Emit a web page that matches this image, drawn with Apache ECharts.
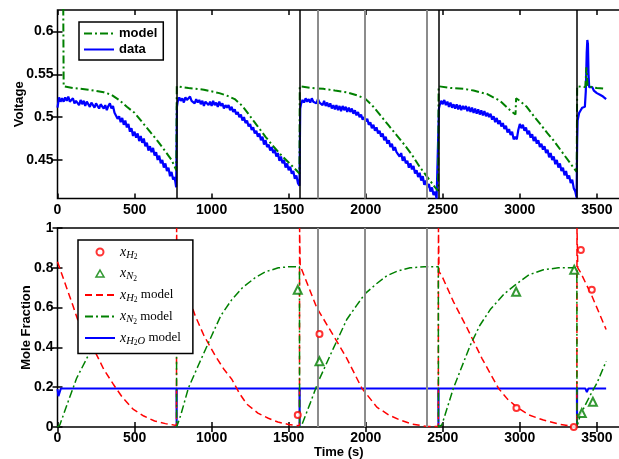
<!DOCTYPE html>
<html>
<head>
<meta charset="utf-8">
<script src="https://cdn.jsdelivr.net/npm/echarts@6/dist/echarts.min.js"></script>
<style>
html, body { margin: 0; padding: 0; background: #fff; }
#chart { width: 619px; height: 459px; }
</style>
</head>
<body>
<div id="chart"></div>
<script>
// purge / switch times (s)
const resetTimes = [773, 1571, 2472, 3371]
// gas sample times (s)
const sampleTimes = [1687, 1996, 2396]

const xTicks = [0, 500, 1000, 1500, 2000, 2500, 3000, 3500]
const voltTicks = [0.45, 0.5, 0.55, 0.6]

// top panel: model voltage [t, V]
const voltageModel = [
  [0, 0.64], [37, 0.64], [40, 0.536], [100, 0.534], [200, 0.532], [300, 0.529], [350, 0.526], [400, 0.520],
  [450, 0.512], [500, 0.505], [550, 0.494], [600, 0.483], [650, 0.472], [700, 0.460], [740, 0.450], [771, 0.438],
  [773, 0.438], [774, 0.536],
  [850, 0.534], [950, 0.532], [1050, 0.528], [1100, 0.525], [1150, 0.521], [1200, 0.513], [1250, 0.501], [1300, 0.489],
  [1350, 0.477], [1400, 0.466], [1450, 0.456], [1500, 0.447], [1550, 0.438], [1570, 0.434], [1572, 0.536],
  [1650, 0.534], [1725, 0.533], [1800, 0.531], [1877, 0.529], [1950, 0.525], [2000, 0.521], [2050, 0.512], [2100, 0.501],
  [2150, 0.490], [2200, 0.479], [2250, 0.468], [2300, 0.456], [2350, 0.442], [2400, 0.430], [2450, 0.418], [2470, 0.414],
  [2473, 0.536],
  [2550, 0.534], [2634, 0.533], [2700, 0.531], [2786, 0.527], [2872, 0.519], [2937, 0.508], [2972, 0.503], [2976, 0.522],
  [3000, 0.519], [3045, 0.512], [3100, 0.499], [3132, 0.492], [3180, 0.481], [3218, 0.473], [3283, 0.457], [3348, 0.441],
  [3369, 0.436], [3372, 0.536],
  [3425, 0.535], [3432, 0.558], [3440, 0.536], [3500, 0.534], [3560, 0.533],
]

// top panel: measured voltage [t, V]
const voltageData = [
  [0, 0.511], [10, 0.523], [20, 0.518], [30, 0.522], [40, 0.518], [50, 0.523], [60, 0.519], [70, 0.524], [80, 0.518], [90, 0.520],
  [100, 0.522], [110, 0.516], [120, 0.519], [130, 0.521], [140, 0.514], [150, 0.520], [160, 0.515], [170, 0.519], [180, 0.513], [190, 0.518],
  [200, 0.520], [210, 0.512], [220, 0.517], [230, 0.519], [240, 0.511], [250, 0.516], [260, 0.518], [270, 0.510], [280, 0.515], [290, 0.517],
  [300, 0.510], [310, 0.514], [320, 0.508], [330, 0.513], [340, 0.516], [350, 0.510], [360, 0.513], [370, 0.505], [380, 0.507], [390, 0.498],
  [400, 0.501], [410, 0.494], [420, 0.499], [430, 0.491], [440, 0.496], [450, 0.488], [460, 0.492], [470, 0.483], [480, 0.487], [490, 0.478],
  [500, 0.483], [510, 0.476], [520, 0.481], [530, 0.472], [540, 0.478], [550, 0.470], [560, 0.475], [570, 0.466], [580, 0.470], [590, 0.461],
  [600, 0.466], [610, 0.459], [620, 0.464], [630, 0.455], [640, 0.459], [650, 0.450], [660, 0.455], [670, 0.446], [680, 0.450], [690, 0.441],
  [700, 0.446], [710, 0.437], [720, 0.441], [730, 0.431], [740, 0.436], [750, 0.427], [760, 0.430], [770, 0.418],
  [775, 0.512], [780, 0.518], [790, 0.523], [800, 0.519], [810, 0.522], [820, 0.517], [830, 0.523], [840, 0.520], [850, 0.518], [860, 0.524],
  [870, 0.519], [880, 0.521], [890, 0.516], [900, 0.521], [910, 0.517], [920, 0.520], [930, 0.515], [940, 0.519], [950, 0.513], [960, 0.518],
  [970, 0.520], [980, 0.514], [990, 0.518], [1000, 0.513], [1010, 0.519], [1020, 0.514], [1030, 0.517], [1040, 0.512], [1050, 0.518], [1060, 0.513],
  [1070, 0.516], [1080, 0.510], [1090, 0.514], [1100, 0.511], [1110, 0.514], [1120, 0.508], [1130, 0.512], [1140, 0.506], [1150, 0.509], [1160, 0.503],
  [1170, 0.506], [1180, 0.500], [1190, 0.503], [1200, 0.496], [1210, 0.500], [1220, 0.493], [1230, 0.496], [1240, 0.489], [1250, 0.492], [1260, 0.485],
  [1270, 0.488], [1280, 0.481], [1290, 0.484], [1300, 0.477], [1310, 0.481], [1320, 0.473], [1330, 0.477], [1340, 0.468], [1350, 0.473], [1360, 0.465],
  [1370, 0.468], [1380, 0.461], [1390, 0.465], [1400, 0.458], [1410, 0.462], [1420, 0.454], [1430, 0.458], [1440, 0.449], [1450, 0.454], [1460, 0.446],
  [1470, 0.450], [1480, 0.441], [1490, 0.446], [1500, 0.438], [1510, 0.442], [1520, 0.434], [1530, 0.437], [1540, 0.428], [1550, 0.432], [1560, 0.423],
  [1570, 0.420],
  [1575, 0.510], [1580, 0.515], [1590, 0.520], [1600, 0.517], [1610, 0.522], [1620, 0.518], [1630, 0.521], [1640, 0.517], [1650, 0.522], [1660, 0.518],
  [1670, 0.520], [1680, 0.516], [1690, 0.521], [1700, 0.517], [1710, 0.519], [1720, 0.514], [1730, 0.519], [1740, 0.513], [1750, 0.517], [1760, 0.512],
  [1770, 0.516], [1780, 0.510], [1790, 0.514], [1800, 0.509], [1810, 0.514], [1820, 0.508], [1830, 0.513], [1840, 0.507], [1850, 0.513], [1860, 0.508],
  [1870, 0.512], [1880, 0.506], [1890, 0.511], [1900, 0.506], [1910, 0.510], [1920, 0.504], [1930, 0.508], [1940, 0.502], [1950, 0.506], [1960, 0.500],
  [1970, 0.503], [1980, 0.497], [1990, 0.500], [2000, 0.495], [2010, 0.498], [2020, 0.491], [2030, 0.494], [2040, 0.487], [2050, 0.491], [2060, 0.484],
  [2070, 0.488], [2080, 0.481], [2090, 0.484], [2100, 0.477], [2110, 0.481], [2120, 0.473], [2130, 0.477], [2140, 0.469], [2150, 0.473], [2160, 0.465],
  [2170, 0.469], [2180, 0.461], [2190, 0.465], [2200, 0.459], [2210, 0.461], [2220, 0.454], [2230, 0.458], [2240, 0.449], [2250, 0.454], [2260, 0.446],
  [2270, 0.449], [2280, 0.441], [2290, 0.446], [2300, 0.439], [2310, 0.443], [2320, 0.434], [2330, 0.438], [2340, 0.430], [2350, 0.435], [2360, 0.426],
  [2370, 0.431], [2380, 0.421], [2390, 0.426], [2400, 0.418], [2410, 0.422], [2420, 0.413], [2430, 0.418], [2440, 0.409], [2450, 0.413], [2460, 0.405],
  [2470, 0.407],
  [2475, 0.510], [2480, 0.514], [2490, 0.519], [2500, 0.515], [2510, 0.520], [2520, 0.514], [2530, 0.518], [2540, 0.512], [2550, 0.517], [2560, 0.511],
  [2570, 0.515], [2580, 0.510], [2590, 0.515], [2600, 0.509], [2610, 0.514], [2620, 0.508], [2630, 0.513], [2640, 0.509], [2650, 0.513], [2660, 0.507],
  [2670, 0.512], [2680, 0.506], [2690, 0.511], [2700, 0.505], [2710, 0.510], [2720, 0.504], [2730, 0.509], [2740, 0.503], [2750, 0.508], [2760, 0.502],
  [2770, 0.507], [2780, 0.501], [2790, 0.505], [2800, 0.500], [2810, 0.504], [2820, 0.497], [2830, 0.501], [2840, 0.494], [2850, 0.499], [2860, 0.492],
  [2870, 0.496], [2880, 0.489], [2890, 0.493], [2900, 0.486], [2910, 0.490], [2920, 0.482], [2930, 0.486], [2940, 0.479], [2950, 0.483], [2960, 0.474],
  [2970, 0.477], [2980, 0.474], [2990, 0.485], [3000, 0.492], [3010, 0.487], [3020, 0.491], [3030, 0.484], [3040, 0.488], [3050, 0.480], [3060, 0.484],
  [3070, 0.476], [3080, 0.480], [3090, 0.472], [3100, 0.477], [3110, 0.469], [3120, 0.473], [3130, 0.465], [3140, 0.469], [3150, 0.462], [3160, 0.466],
  [3170, 0.458], [3180, 0.462], [3190, 0.453], [3200, 0.458], [3210, 0.450], [3220, 0.454], [3230, 0.445], [3240, 0.450], [3250, 0.441], [3260, 0.446],
  [3270, 0.437], [3280, 0.441], [3290, 0.432], [3300, 0.437], [3310, 0.428], [3320, 0.432], [3330, 0.423], [3340, 0.427], [3350, 0.417], [3360, 0.413],
  [3368, 0.406],
  [3372, 0.470], [3375, 0.496], [3385, 0.505], [3395, 0.508], [3405, 0.511], [3415, 0.509], [3422, 0.512], [3428, 0.530], [3434, 0.575], [3438, 0.590],
  [3442, 0.585], [3446, 0.550], [3450, 0.535], [3460, 0.533], [3470, 0.535], [3480, 0.531], [3490, 0.532], [3500, 0.528], [3510, 0.530], [3520, 0.526],
  [3530, 0.528], [3540, 0.524], [3550, 0.526], [3560, 0.521],
]

// bottom panel: model mole fractions [t, x]
const h2Model = [
  [0, 0.83], [50, 0.72], [100, 0.61], [135, 0.53], [200, 0.44], [243, 0.38], [300, 0.29], [362, 0.215], [420, 0.15], [490, 0.09],
  [560, 0.055], [630, 0.03], [700, 0.017], [772, 0.008], [773, 1.0], [775, 0.83],
  [830, 0.70], [893, 0.56], [950, 0.46], [1022, 0.36], [1080, 0.29], [1131, 0.24], [1180, 0.17], [1228, 0.115], [1300, 0.07], [1368, 0.044],
  [1430, 0.025], [1498, 0.013], [1570, 0.006], [1571, 1.0], [1575, 0.81],
  [1585, 0.80], [1682, 0.60], [1790, 0.46], [1877, 0.345], [1975, 0.195], [2072, 0.10], [2150, 0.06], [2223, 0.035], [2300, 0.015], [2396, 0.003],
  [2471, 0.002], [2472, 1.0], [2476, 0.78],
  [2494, 0.76], [2569, 0.63], [2656, 0.50], [2754, 0.345], [2861, 0.195], [2920, 0.14], [2981, 0.10], [3060, 0.06], [3153, 0.035], [3250, 0.015],
  [3327, 0.005], [3370, 0.002], [3371, 1.0], [3376, 0.80],
  [3392, 0.78], [3467, 0.66], [3560, 0.49],
]
const n2Model = [
  [0, 0], [15, 0.01], [70, 0.13], [124, 0.245], [200, 0.36], [300, 0.52], [400, 0.64], [500, 0.72], [600, 0.77], [700, 0.795], [772, 0.80], [773, 0],
  [800, 0.06], [849, 0.195], [914, 0.31], [1001, 0.46], [1060, 0.56], [1131, 0.64], [1200, 0.70], [1282, 0.75], [1350, 0.78], [1433, 0.80],
  [1500, 0.805], [1570, 0.805], [1571, 0],
  [1585, 0.01], [1640, 0.12], [1693, 0.23], [1790, 0.395], [1877, 0.54], [1940, 0.61], [1996, 0.67], [2070, 0.72], [2137, 0.76], [2210, 0.785],
  [2288, 0.80], [2380, 0.805], [2471, 0.805], [2472, 0],
  [2494, 0.01], [2569, 0.195], [2678, 0.41], [2740, 0.51], [2808, 0.59], [2900, 0.67], [2981, 0.72], [3060, 0.765], [3153, 0.79], [3250, 0.80],
  [3370, 0.80], [3371, 0],
  [3392, 0.06], [3457, 0.16], [3500, 0.22], [3560, 0.33],
]
const h2oModel = [
  [0, 0.19], [6, 0.155], [12, 0.15], [22, 0.194], [772, 0.194], [773, 0], [774, 0.194], [1570, 0.194], [1571, 0], [1572, 0.194],
  [2471, 0.194], [2472, 0], [2473, 0.194], [3370, 0.194], [3371, 0], [3372, 0.194], [3425, 0.194], [3435, 0.175], [3445, 0.194], [3560, 0.194],
]
// bottom panel: gas samples
const h2Samples = [[1559, 0.06], [1700, 0.467], [2978, 0.095], [3350, 0.0], [3396, 0.89], [3467, 0.69]]
const n2Samples = [[1559, 0.69], [1700, 0.33], [2976, 0.68], [3353, 0.79], [3402, 0.07], [3474, 0.127]]

const X_MAX = 3650
const FONT = 'Liberation Sans, Arial, sans-serif'
const SERIF = 'Liberation Serif, Times New Roman, serif'
const dashDot = [8, 3, 2, 3]

const tickLabel = { fontFamily: FONT, fontWeight: 'bold', fontSize: 14, color: '#000' }
const inTick = { show: true, inside: true, length: 5, lineStyle: { color: '#000', width: 1.5 } }
const nameStyle = { fontFamily: FONT, fontWeight: 'bold', fontSize: 13, color: '#000' }

function xAxisPair(gridIndex, margin, withName) {
  const base = { type: 'value', gridIndex, min: 0, max: X_MAX, splitLine: { show: false }, axisLine: { show: false } }
  const bottom = Object.assign({}, base, {
    position: 'bottom',
    axisTick: Object.assign({}, inTick, { customValues: xTicks }),
    axisLabel: Object.assign({}, tickLabel, { margin, customValues: xTicks, formatter: v => String(v) }),
  })
  if (withName) {
    Object.assign(bottom, { name: 'Time (s)', nameLocation: 'middle', nameGap: 19, nameMoveOverlap: false, nameTextStyle: nameStyle })
  }
  const top = Object.assign({}, base, {
    position: 'top',
    axisTick: Object.assign({}, inTick, { customValues: xTicks }),
    axisLabel: { show: false },
  })
  return [bottom, top]
}

function vline(values, color, width) {
  return {
    silent: true,
    symbol: ['none', 'none'],
    label: { show: false },
    emphasis: { disabled: true },
    animation: false,
    lineStyle: { color, width, type: 'solid', opacity: 1 },
    data: values.map(t => ({ xAxis: t })),
  }
}

// legend entry for a line series: line only, no marker
const lineOnly = name => ({ name, itemStyle: { opacity: 0 } })

const chart = echarts.init(document.getElementById('chart'), null, { renderer: 'canvas' })

const gridBase = { left: 57.5, right: -1, show: true, borderColor: '#000', borderWidth: 1.5, backgroundColor: '#fff', containLabel: false, outerBoundsMode: 'none' }

chart.setOption({
  animation: false,
  backgroundColor: '#fff',
  grid: [
    Object.assign({}, gridBase, { top: 10, height: 188.5 }),
    Object.assign({}, gridBase, { top: 228, height: 199 }),
  ],
  xAxis: [...xAxisPair(0, 5, false), ...xAxisPair(1, 4, true)],
  yAxis: [
    {
      type: 'value', gridIndex: 0, position: 'left', min: 0.405, max: 0.625,
      splitLine: { show: false }, axisLine: { show: false },
      axisTick: Object.assign({}, inTick, { customValues: voltTicks }),
      axisLabel: Object.assign({}, tickLabel, { margin: 4, customValues: voltTicks }),
      name: 'Voltage', nameLocation: 'middle', nameGap: 32, nameMoveOverlap: false, nameTextStyle: nameStyle,
    },
    {
      type: 'value', gridIndex: 0, position: 'right', min: 0.405, max: 0.625,
      splitLine: { show: false }, axisLine: { show: false },
      axisTick: Object.assign({}, inTick, { customValues: voltTicks }),
      axisLabel: { show: false },
    },
    {
      type: 'value', gridIndex: 1, position: 'left', min: 0, max: 1, interval: 0.2,
      splitLine: { show: false }, axisLine: { show: false },
      axisTick: inTick,
      axisLabel: Object.assign({}, tickLabel, { margin: 4 }),
      name: 'Mole Fraction', nameLocation: 'middle', nameGap: 25, nameMoveOverlap: false, nameTextStyle: nameStyle,
    },
    {
      type: 'value', gridIndex: 1, position: 'right', min: 0, max: 1, interval: 0.2,
      splitLine: { show: false }, axisLine: { show: false },
      axisTick: inTick,
      axisLabel: { show: false },
    },
  ],
  legend: [
    {
      data: [lineOnly('model'), lineOnly('data')],
      orient: 'vertical', left: 79, top: 22,
      itemWidth: 30, itemHeight: 8, itemGap: 3,
      padding: [5, 6, 4, 4],
      borderColor: '#000', borderWidth: 1.5, backgroundColor: '#fff',
      selectedMode: false,
      textStyle: { fontFamily: FONT, fontWeight: 'bold', fontSize: 13, color: '#000' },
    },
    {
      data: [
        'xH2',
        { name: 'xN2', icon: 'path://M5,0L10,8.66L0,8.66Z', itemStyle: { color: 'rgba(0,0,0,0)', borderColor: '#008000', borderWidth: 1.5 } },
        lineOnly('xH2 model'), lineOnly('xN2 model'), lineOnly('xH2O model'),
      ],
      orient: 'vertical', left: 78, top: 240,
      itemWidth: 30, itemHeight: 7, itemGap: 5,
      padding: [5, 12, 6, 6],
      borderColor: '#000', borderWidth: 1.5, backgroundColor: '#fff',
      selectedMode: false,
      formatter: name => {
        const sub = name.startsWith('xH2O') ? '{x|x}{s|H}{ss|2}{s|O}'
          : name.startsWith('xH2') ? '{x|x}{s|H}{ss|2}'
          : '{x|x}{s|N}{ss|2}'
        return name.endsWith('model') ? sub + '{m| model}' : sub
      },
      textStyle: {
        color: '#000',
        rich: {
          x: { fontFamily: SERIF, fontStyle: 'italic', fontSize: 14, color: '#000' },
          s: { fontFamily: SERIF, fontStyle: 'italic', fontSize: 10.5, color: '#000', padding: [6, 0, 0, 0] },
          ss: { fontFamily: SERIF, fontSize: 7.5, color: '#000', padding: [11, 0, 0, 0] },
          m: { fontFamily: SERIF, fontSize: 13, color: '#000' },
        },
      },
    },
  ],
  series: [
    {
      name: 'model', type: 'line', xAxisIndex: 0, yAxisIndex: 0,
      data: voltageModel, symbol: 'none', z: 3,
      lineStyle: { color: '#008000', width: 2, type: dashDot },
      itemStyle: { color: '#008000' },
      markLine: vline(sampleTimes, '#8c8c8c', 2),
    },
    {
      name: 'data', type: 'line', xAxisIndex: 0, yAxisIndex: 0,
      data: voltageData, symbol: 'none', z: 2,
      lineStyle: { color: '#0000ff', width: 2.2 },
      itemStyle: { color: '#0000ff' },
      markLine: vline(resetTimes, '#000', 1.5),
    },
    {
      name: 'xH2 model', type: 'line', xAxisIndex: 2, yAxisIndex: 2,
      data: h2Model, symbol: 'none', z: 3,
      lineStyle: { color: '#ff0000', width: 1.5, type: [7, 4] },
      itemStyle: { color: '#ff0000' },
    },
    {
      name: 'xN2 model', type: 'line', xAxisIndex: 2, yAxisIndex: 2,
      data: n2Model, symbol: 'none', z: 3,
      lineStyle: { color: '#008000', width: 1.5, type: dashDot },
      itemStyle: { color: '#008000' },
    },
    {
      name: 'xH2O model', type: 'line', xAxisIndex: 2, yAxisIndex: 2,
      data: h2oModel, symbol: 'none', z: 2,
      lineStyle: { color: '#0000ff', width: 2 },
      itemStyle: { color: '#0000ff' },
      markLine: vline(sampleTimes, '#8c8c8c', 2),
    },
    {
      name: 'xH2', type: 'scatter', xAxisIndex: 2, yAxisIndex: 2,
      data: h2Samples, symbol: 'emptyCircle', symbolSize: 6, z: 5,
      itemStyle: { color: '#ff0000', borderColor: '#ff0000', borderWidth: 1.5 },
    },
    {
      name: 'xN2', type: 'scatter', xAxisIndex: 2, yAxisIndex: 2,
      data: n2Samples, symbol: 'emptyTriangle', symbolSize: 8, z: 5,
      itemStyle: { color: '#008000', borderColor: '#008000', borderWidth: 1.5 },
    },
  ],
})
</script>
</body>
</html>
